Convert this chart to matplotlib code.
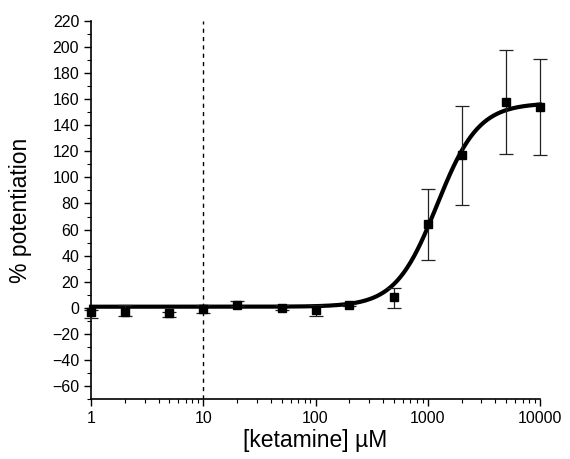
import numpy as np
import matplotlib
matplotlib.use("Agg")
import matplotlib.pyplot as plt
from matplotlib.ticker import LogLocator, MultipleLocator, NullFormatter

plt.rcParams['font.family'] = ['Liberation Sans', 'DejaVu Sans']

conc = [1, 2, 5, 10, 20, 50, 100, 200, 500, 1000, 2000, 5000, 10000]
potentiation = [-3, -3, -4, -1, 2, 0, -2, 2, 8, 64, 117, 158, 154]
err_lo = [5, 3, 3, 3, 1, 2, 4, 1, 8, 27, 38, 40, 37]
err_hi = [1, 5, 1, 3, 3, 2, 4, 1, 7, 27, 38, 40, 37]

# Hill fit parameters
fit_bottom = 0.8
fit_top = 157.0
fit_ec50 = 1210.0
fit_n = 2.35

fig = plt.figure(figsize=(5.70, 4.59), dpi=100)
ax = fig.add_axes([91/570, (459-399)/459, (540-91)/570, (399-21)/459])

xs = np.logspace(0, 4, 400)
ys = fit_bottom + (fit_top - fit_bottom) / (1 + (fit_ec50 / xs) ** fit_n)
ax.plot(xs, ys, color='black', lw=3, zorder=3, clip_on=False)

eb = ax.errorbar(conc, potentiation, yerr=[err_lo, err_hi], fmt='s', color='black',
                 ecolor='#222222', ms=6, elinewidth=0.9, capsize=5, capthick=0.9,
                 zorder=4)
arts = [eb.lines[0]] + list(eb.lines[1]) + list(eb.lines[2])
for art in arts:
    art.set_clip_on(False)

ax.axvline(10, color='black', lw=1, ls=(0, (3, 3)), zorder=2)

ax.set_xscale('log')
ax.set_xlim(1, 10000)
ax.set_ylim(-70, 220)
ax.set_xticks([1, 10, 100, 1000, 10000])
ax.set_xticklabels(['1', '10', '100', '1000', '10000'])
ax.xaxis.set_minor_locator(LogLocator(base=10, subs=np.arange(2, 10)))
ax.xaxis.set_minor_formatter(NullFormatter())
ax.set_yticks(np.arange(-60, 221, 20))
ax.yaxis.set_minor_locator(MultipleLocator(10))

for s in ['top', 'right']:
    ax.spines[s].set_visible(False)
ax.spines['left'].set_linewidth(1.2)
ax.spines['bottom'].set_linewidth(1.2)
ax.tick_params(which='major', direction='out', length=5, width=1, labelsize=11.5)
ax.tick_params(which='minor', direction='out', length=3, width=0.8)

ax.set_ylabel('% potentiation', fontsize=16.5, labelpad=14)
ax.set_xlabel('[ketamine] \u00b5M', fontsize=16.5, labelpad=2)

fig.savefig('out.png', dpi=100)
